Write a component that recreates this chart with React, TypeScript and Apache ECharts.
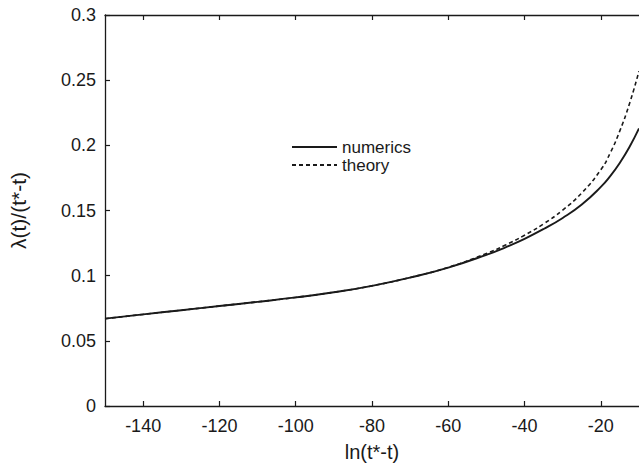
import React, { useEffect, useRef } from "react";
import * as echarts from "echarts";

const xTicks = [-140, -120, -100, -80, -60, -40, -20];

const xValues = [-150, -140, -130, -120, -110, -100, -90, -80, -70, -60, -50, -45, -40, -35, -30, -25, -20, -17.5, -15, -12.5, -10];
const numerics = [0.067, 0.0703, 0.0735, 0.0767, 0.0799, 0.0833, 0.0873, 0.0922, 0.0985, 0.1062, 0.116, 0.1218, 0.1283, 0.1358, 0.1443, 0.1546, 0.1681, 0.1766, 0.1867, 0.1987, 0.213];
const theory = [0.067, 0.0703, 0.0735, 0.0767, 0.0799, 0.0833, 0.0873, 0.0922, 0.0986, 0.1064, 0.117, 0.1235, 0.131, 0.1398, 0.1503, 0.1635, 0.1813, 0.1944, 0.2113, 0.2319, 0.2569];

const FONT = "'Liberation Sans', Arial, Helvetica, sans-serif";
const INK = "#1a1a1a";

export default function App() {
  const ref = useRef<HTMLDivElement>(null);
  useEffect(() => {
    if (!ref.current) return;
    const chart = echarts.init(ref.current, undefined, { renderer: "svg" });
    const axisLine = { show: true, lineStyle: { color: INK, width: 1.3 } };
    chart.setOption({
      animation: false,
      backgroundColor: "#ffffff",
      textStyle: { fontFamily: FONT },
      grid: { left: 100, top: 15, right: -2, bottom: 59, containLabel: false },
      legend: {
        orient: "vertical",
        left: 291,
        top: 138,
        padding: 0,
        itemWidth: 45,
        itemHeight: 14,
        itemGap: 0,
        selectedMode: false,
        itemStyle: { opacity: 0 },
        textStyle: { fontFamily: FONT, fontSize: 17, lineHeight: 18, color: INK },
        data: ["numerics", "theory"],
      },
      xAxis: [
        {
          type: "value",
          min: -150,
          max: -10,
          name: "ln(t*-t)",
          nameLocation: "middle",
          nameGap: 36,
          nameTextStyle: { fontFamily: FONT, fontSize: 20, color: INK },
          axisLine,
          splitLine: { show: false },
          axisTick: { show: true, inside: true, length: 5, customValues: xTicks, lineStyle: { color: INK, width: 1.2 } },
          axisLabel: { customValues: xTicks, fontSize: 18, color: INK, margin: 11, fontFamily: FONT },
        },
        {
          type: "value",
          position: "top",
          min: -150,
          max: -10,
          axisLine,
          splitLine: { show: false },
          axisTick: { show: true, inside: true, length: 5, customValues: xTicks, lineStyle: { color: INK, width: 1.2 } },
          axisLabel: { show: false },
        },
      ],
      yAxis: {
        type: "value",
        min: 0,
        max: 0.3,
        interval: 0.05,
        name: "λ(t)/(t*-t)",
        nameLocation: "middle",
        nameGap: 76,
        nameRotate: 90,
        nameTextStyle: { fontFamily: FONT, fontSize: 21, color: INK },
        axisLine,
        splitLine: { show: false },
        axisTick: { show: true, inside: true, length: 5, lineStyle: { color: INK, width: 1.2 } },
        axisLabel: {
          fontSize: 18,
          color: INK,
          margin: 9,
          fontFamily: FONT,
          formatter: (v: number) => String(Math.round(v * 100) / 100),
        },
      },
      series: [
        {
          name: "numerics",
          type: "line",
          xAxisIndex: 0,
          data: xValues.map((x, i) => [x, numerics[i]]),
          smooth: 0.5,
          showSymbol: false,
          symbol: "none",
          lineStyle: { color: INK, width: 1.9, type: "solid" },
          itemStyle: { color: INK },
          z: 3,
        },
        {
          name: "theory",
          type: "line",
          xAxisIndex: 0,
          data: xValues.map((x, i) => [x, theory[i]]),
          smooth: 0.5,
          showSymbol: false,
          symbol: "none",
          lineStyle: { color: INK, width: 1.6, type: [4, 3] },
          itemStyle: { color: INK },
          z: 2,
        },
      ],
    });
    return () => chart.dispose();
  }, []);
  return <div ref={ref} style={{ width: 639, height: 467, position: "absolute", left: 0, top: 0 }} />;
}
